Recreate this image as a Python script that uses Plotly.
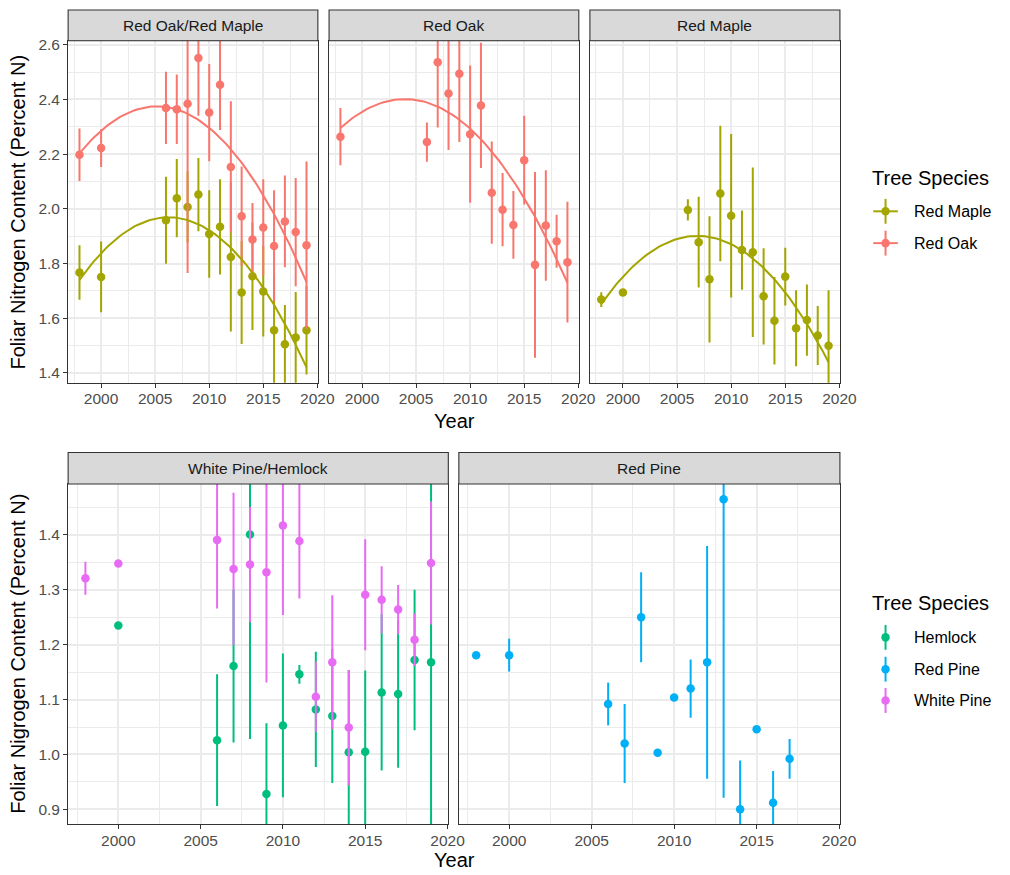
import numpy as np
import plotly.graph_objects as go

# ---------------- data ----------------
# Red Oak / Red Maple mixed stands
years_mix = [1998, 2000, 2006, 2007, 2008, 2009, 2010, 2011, 2012, 2013, 2014, 2015, 2016, 2017, 2018, 2019]
oak_mix_mean = [2.198, 2.222, 2.369, 2.364, 2.384, 2.552, 2.352, 2.454, 2.153, 1.973, 1.888, 1.932, 1.864, 1.954, 1.915, 1.867]
oak_mix_se = [0.096, 0.069, 0.132, 0.127, 0.619, 0.212, 0.178, 0.166, 0.240, 0.182, 0.133, 0.176, 0.204, 0.168, 0.198, 0.306]
maple_mix_mean = [1.767, 1.751, 1.958, 2.039, 2.007, 2.052, 1.908, 1.934, 1.824, 1.694, 1.753, 1.698, 1.556, 1.505, 1.529, 1.556]
maple_mix_se = [0.100, 0.129, 0.159, 0.143, 0.130, 0.134, 0.160, 0.174, 0.273, 0.188, 0.196, 0.165, 0.200, 0.143, 0.167, 0.162]

# Red Oak stands
years_oak = [1998, 2006, 2007, 2008, 2009, 2010, 2011, 2012, 2013, 2014, 2015, 2016, 2017, 2018, 2019]
oak_mean = [2.264, 2.244, 2.536, 2.422, 2.494, 2.273, 2.378, 2.059, 1.997, 1.941, 2.178, 1.795, 1.939, 1.881, 1.805]
oak_se = [0.105, 0.072, 0.239, 0.207, 0.250, 0.251, 0.229, 0.187, 0.134, 0.124, 0.162, 0.340, 0.202, 0.097, 0.221]

# Red Maple stands
years_maple = [1998, 2000, 2006, 2007, 2008, 2009, 2010, 2011, 2012, 2013, 2014, 2015, 2016, 2017, 2018, 2019]
maple_mean = [1.668, 1.694, 1.996, 1.878, 1.742, 2.056, 1.975, 1.849, 1.841, 1.680, 1.591, 1.752, 1.563, 1.593, 1.537, 1.499]
maple_se = [0.027, 0.0, 0.039, 0.166, 0.231, 0.248, 0.299, 0.145, 0.310, 0.176, 0.160, 0.106, 0.139, 0.130, 0.108, 0.203]

# White Pine / Hemlock stands
years_wp = [1998, 2000, 2006, 2007, 2008, 2009, 2010, 2011, 2012, 2013, 2014, 2015, 2016, 2017, 2018, 2019]
wp_mean = [1.321, 1.348, 1.391, 1.338, 1.346, 1.332, 1.417, 1.389, 1.105, 1.168, 1.049, 1.291, 1.282, 1.264, 1.209, 1.349]
wp_se = [0.030, 0.0, 0.125, 0.139, 0.105, 0.201, 0.163, 0.105, 0.064, 0.122, 0.105, 0.101, 0.061, 0.045, 0.048, 0.112]
years_hem = [2000, 2006, 2007, 2008, 2009, 2010, 2011, 2012, 2013, 2014, 2015, 2016, 2017, 2018, 2019]
hem_mean = [1.235, 1.026, 1.161, 1.401, 0.928, 1.053, 1.146, 1.082, 1.070, 1.004, 1.005, 1.113, 1.110, 1.172, 1.168]
hem_se = [0.0, 0.120, 0.139, 0.373, 0.129, 0.131, 0.017, 0.105, 0.122, 0.150, 0.148, 0.142, 0.134, 0.128, 0.360]

# Red Pine stands
years_rp = [1998, 2000, 2006, 2007, 2008, 2009, 2010, 2011, 2012, 2013, 2014, 2015, 2016, 2017]
rp_mean = [1.181, 1.181, 1.092, 1.020, 1.250, 1.003, 1.104, 1.120, 1.168, 1.465, 0.900, 1.046, 0.912, 0.992]
rp_se = [0.0, 0.030, 0.039, 0.072, 0.082, 0.0, 0.0, 0.053, 0.212, 0.544, 0.089, 0.0, 0.058, 0.036]

strip_top = ["Red Oak/Red Maple", "Red Oak", "Red Maple"]
strip_bottom = ["White Pine/Hemlock", "Red Pine"]
legend_top = ["Red Maple", "Red Oak"]
legend_bottom = ["Hemlock", "Red Pine", "White Pine"]

COLORS = {
    "Red Oak": "#F8766D",
    "Red Maple": "#A3A500",
    "Hemlock": "#00BF7D",
    "Red Pine": "#00B0F6",
    "White Pine": "#E76BF3",
}

FONT = "Liberation Sans, Arial, sans-serif"
W, H = 1010, 875


def fx(p):
    return p / W


def fy(p):
    return 1 - p / H


fig = go.Figure()


def add_series(name, years, mean, se, xa, ya):
    fig.add_trace(go.Scatter(
        x=years, y=mean, mode="markers", xaxis=xa, yaxis=ya,
        marker=dict(size=8.5, color=COLORS[name], line=dict(width=0)),
        error_y=dict(type="data", array=se, arrayminus=se, symmetric=False,
                     thickness=2, width=0, color=COLORS[name]),
        showlegend=False, hoverinfo="skip",
    ))


def add_smooth(name, years, mean, xa, ya):
    # quadratic least-squares trend, as in a degree-2 polynomial smoother
    coef = np.polyfit(years, mean, 2)
    xs = np.linspace(min(years), max(years), 80)
    fig.add_trace(go.Scatter(
        x=xs, y=np.polyval(coef, xs), mode="lines", xaxis=xa, yaxis=ya,
        line=dict(color=COLORS[name], width=2), showlegend=False, hoverinfo="skip",
    ))


# top row
add_series("Red Maple", years_mix, maple_mix_mean, maple_mix_se, "x", "y")
add_series("Red Oak", years_mix, oak_mix_mean, oak_mix_se, "x", "y")
add_smooth("Red Maple", years_mix, maple_mix_mean, "x", "y")
add_smooth("Red Oak", years_mix, oak_mix_mean, "x", "y")

add_series("Red Oak", years_oak, oak_mean, oak_se, "x2", "y2")
add_smooth("Red Oak", years_oak, oak_mean, "x2", "y2")

add_series("Red Maple", years_maple, maple_mean, maple_se, "x3", "y3")
add_smooth("Red Maple", years_maple, maple_mean, "x3", "y3")

# bottom row
add_series("Hemlock", years_hem, hem_mean, hem_se, "x4", "y4")
add_series("White Pine", years_wp, wp_mean, wp_se, "x4", "y4")
add_series("Red Pine", years_rp, rp_mean, rp_se, "x5", "y5")

# ---------------- axes ----------------
top_x = [(69.3, 323.3), (334.7, 588.7), (600.0, 854.3)]
bot_x = [(69.3, 456.0), (466.7, 854.3)]
top_y = (36.0, 380.0)
bot_y = (481.7, 824.0)
top_strip = (5.0, 36.0)
bot_strip = (450.0, 481.7)

GRID = "#EBEBEB"
BORDER = "#333333"


def xaxis_cfg(dom, anchor):
    return dict(
        domain=[fx(dom[0]), fx(dom[1])], anchor=anchor,
        range=[1996.95, 2020.05], tickmode="linear", tick0=2000, dtick=5,
        ticks="outside", ticklen=4, tickwidth=1.1, tickcolor=BORDER,
        ticklabelstandoff=-2,
        showline=True, linecolor=BORDER, linewidth=1.1, mirror=True,
        showgrid=True, gridcolor=GRID, gridwidth=1.7, zeroline=False,
        minor=dict(tickmode="linear", tick0=2000, dtick=2.5, showgrid=True,
                   gridcolor=GRID, gridwidth=0.9, ticks=""),
        tickfont=dict(family=FONT, size=15.5, color="#4D4D4D"),
        fixedrange=True,
    )


def yaxis_cfg(dom, anchor, rng, dtick, minor_dtick, labels):
    return dict(
        domain=[fy(dom[1]), fy(dom[0])], anchor=anchor,
        range=rng, tickmode="linear", tick0=1.0, dtick=dtick, tickformat=".1f",
        ticks="outside" if labels else "", ticklen=4, tickwidth=1.1, tickcolor=BORDER,
        showticklabels=labels,
        showline=True, linecolor=BORDER, linewidth=1.1, mirror=True,
        showgrid=True, gridcolor=GRID, gridwidth=1.7, zeroline=False,
        minor=dict(tickmode="linear", tick0=1.0, dtick=minor_dtick, showgrid=True,
                   gridcolor=GRID, gridwidth=0.9, ticks=""),
        tickfont=dict(family=FONT, size=15.5, color="#4D4D4D"),
        fixedrange=True,
    )


TOP_RANGE = [1.3636, 2.6145]
BOT_RANGE = [0.8728, 1.4929]

layout = dict(
    width=W, height=H, margin=dict(l=0, r=0, t=0, b=0),
    paper_bgcolor="white", plot_bgcolor="white",
    font=dict(family=FONT, color="black"),
    showlegend=False,
)
layout["xaxis"] = xaxis_cfg(top_x[0], "y")
layout["xaxis2"] = xaxis_cfg(top_x[1], "y2")
layout["xaxis3"] = xaxis_cfg(top_x[2], "y3")
layout["xaxis4"] = xaxis_cfg(bot_x[0], "y4")
layout["xaxis5"] = xaxis_cfg(bot_x[1], "y5")
layout["yaxis"] = yaxis_cfg(top_y, "x", TOP_RANGE, 0.2, 0.1, True)
layout["yaxis2"] = yaxis_cfg(top_y, "x2", TOP_RANGE, 0.2, 0.1, False)
layout["yaxis3"] = yaxis_cfg(top_y, "x3", TOP_RANGE, 0.2, 0.1, False)
layout["yaxis4"] = yaxis_cfg(bot_y, "x4", BOT_RANGE, 0.1, 0.05, True)
layout["yaxis5"] = yaxis_cfg(bot_y, "x5", BOT_RANGE, 0.1, 0.05, False)
fig.update_layout(**layout)

shapes = []
annotations = []


def add_strip(xr, yr, label):
    shapes.append(dict(type="rect", xref="paper", yref="paper",
                       x0=fx(xr[0]), x1=fx(xr[1]), y0=fy(yr[1]), y1=fy(yr[0]),
                       fillcolor="#D9D9D9", line=dict(color=BORDER, width=1.1)))
    annotations.append(dict(xref="paper", yref="paper", x=fx((xr[0] + xr[1]) / 2),
                            y=fy((yr[0] + yr[1]) / 2), text=label, showarrow=False,
                            xanchor="center", yanchor="middle",
                            font=dict(family=FONT, size=15.5, color="#1A1A1A")))


# facet strips
for xr, label in zip(top_x, strip_top):
    add_strip(xr, top_strip, label)
for xr, label in zip(bot_x, strip_bottom):
    add_strip(xr, bot_strip, label)

# axis titles
for ycen, title in [((top_y[0] + top_y[1]) / 2, "Foliar Nitrogen Content (Percent N)"),
                    ((bot_y[0] + bot_y[1]) / 2, "Foliar Nigrogen Content (Percent N)")]:
    annotations.append(dict(xref="paper", yref="paper", x=fx(18), y=fy(ycen), text=title,
                            textangle=-90, showarrow=False, xanchor="center", yanchor="middle",
                            font=dict(family=FONT, size=20, color="black")))
for ycen in [418, 860]:
    annotations.append(dict(xref="paper", yref="paper", x=fx((69.3 + 854.3) / 2), y=fy(ycen),
                            text="Year", showarrow=False, xanchor="center", yanchor="middle",
                            font=dict(family=FONT, size=20, color="black")))


# legends
def add_legend(title_y, entries, key_ys, horizontal):
    annotations.append(dict(xref="paper", yref="paper", x=fx(885), y=fy(title_y),
                            text="Tree Species", showarrow=False, xanchor="left",
                            yanchor="middle", font=dict(family=FONT, size=20, color="black")))
    kx = 900.7
    for name, ky in zip(entries, key_ys):
        col = COLORS[name]
        shapes.append(dict(type="line", xref="paper", yref="paper",
                           x0=fx(kx), x1=fx(kx), y0=fy(ky + 12.5), y1=fy(ky - 12.5),
                           line=dict(color=col, width=2)))
        if horizontal:
            shapes.append(dict(type="line", xref="paper", yref="paper",
                               x0=fx(kx - 12.5), x1=fx(kx + 12.5), y0=fy(ky), y1=fy(ky),
                               line=dict(color=col, width=2)))
        r = 4.3
        shapes.append(dict(type="circle", xref="paper", yref="paper",
                           x0=fx(kx - r), x1=fx(kx + r), y0=fy(ky + r), y1=fy(ky - r),
                           fillcolor=col, line=dict(color=col, width=0)))
        annotations.append(dict(xref="paper", yref="paper", x=fx(928), y=fy(ky), text=name,
                                showarrow=False, xanchor="left", yanchor="middle",
                                font=dict(family=FONT, size=16, color="black")))


add_legend(174, legend_top, [207.5, 239.5], True)
add_legend(601.5, legend_bottom, [636, 668, 699.5], False)

fig.update_layout(shapes=shapes, annotations=annotations)

fig.write_html("out.html", config={"displayModeBar": False})
